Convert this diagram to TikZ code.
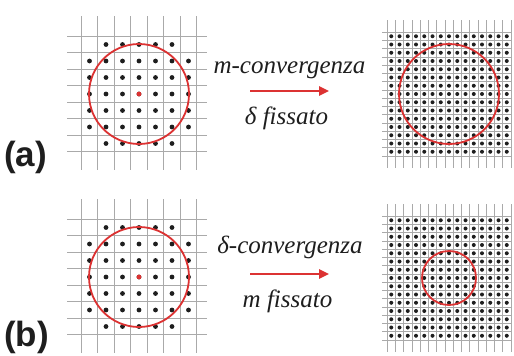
\documentclass[tikz,border=0pt]{standalone}
\usepackage{fontspec}
\setmainfont{Liberation Serif}
\setsansfont{Liberation Sans}
\usetikzlibrary{arrows.meta}
\definecolor{myred}{RGB}{220,50,50}
\definecolor{mygray}{RGB}{170,170,170}
\definecolor{mydark}{RGB}{30,30,30}
\tikzset{
  gridline/.style={mygray, line width=0.6pt},
  griddot/.style={fill=mydark},
  ring/.style={draw=myred, line width=1.8pt},
  redarrow/.style={-{Triangle[length=10pt, width=9pt]}, line width=2.4pt, color=myred},
  lbl/.style={font=\fontsize{25}{30}\selectfont\itshape, color=mydark, anchor=base, inner sep=0pt},
  tag/.style={font=\fontsize{35}{40}\selectfont\sffamily\bfseries, color=mydark, anchor=base west, inner sep=0pt},
  coarsegrid/.pic={
    \foreach \k in {-3.5,-2.5,...,3.5} {
      \draw[gridline] (\k*16.5,-78) -- (\k*16.5,76);
      \draw[gridline] (-72,\k*16.5) -- (68,\k*16.5);
    }
    \foreach \i in {-3,...,3}
      \foreach \j in {-3,...,3} {
        \ifnum\numexpr\i*\i+\j*\j\relax<18
          \fill[griddot] (\i*16.5,\j*16.5) circle (2.4);
        \fi
      }
    \fill[myred] (0,0) circle (2.4);
  },
  finegrid/.pic={
    \foreach \k in {-7.5,-6.5,...,7.5} {
      \draw[gridline] (\k*8.25,-74) -- (\k*8.25,74);
      \draw[gridline] (-67,\k*8.25) -- (63,\k*8.25);
    }
    \foreach \i in {-7,...,7}
      \foreach \j in {-7,...,7}
        \fill[griddot] (\i*8.25,\j*8.25) circle (2.0);
  }
}
\begin{document}
\begin{tikzpicture}[x=1pt, y=-1pt]
  \useasboundingbox[fill=white] (0,0) rectangle (514,356);
  % (a) m-convergenza
  \pic at (139,94) {coarsegrid};
  \pic at (449,94) {finegrid};
  \draw[ring] (139,94) circle (50);
  \draw[ring] (449,94) circle (50);
  \coordinate (a0) at (250,91);
  \coordinate (a1) at (329,91);
  \draw[redarrow] (a0) -- (a1);
  \node[lbl] (mconv) at (289.5,73) {m-convergenza};
  \node[lbl] (dfix) at (286.5,124) {δ fissato};
  \node[tag] (taga) at (4,166) {(a)};
  % (b) delta-convergenza
  \pic at (139,277) {coarsegrid};
  \pic at (449,278) {finegrid};
  \draw[ring] (139,277) circle (50);
  \draw[ring] (449,278) circle (27);
  \coordinate (b0) at (250,274);
  \coordinate (b1) at (329,274);
  \draw[redarrow] (b0) -- (b1);
  \node[lbl] (dconv) at (290,253) {δ-convergenza};
  \node[lbl] (mfix) at (287.5,307) {m fissato};
  \node[tag] (tagb) at (4,346) {(b)};
\end{tikzpicture}
\end{document}
